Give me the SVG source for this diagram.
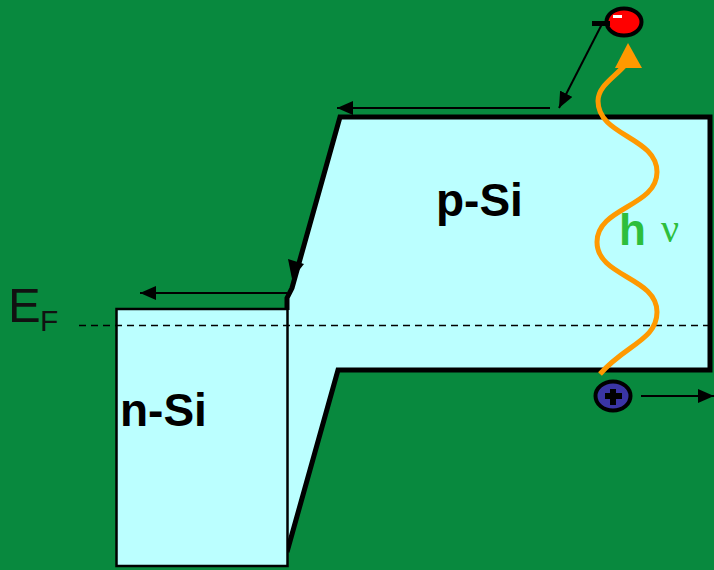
<svg xmlns="http://www.w3.org/2000/svg" width="714" height="570" viewBox="0 0 714 570">
<defs>
<marker id="ah" markerUnits="userSpaceOnUse" markerWidth="16" markerHeight="14" refX="16" refY="7" orient="auto">
<path d="M0,0 L16,7 L0,14 z" fill="#000"/>
</marker>
<style>
.lbl{font-family:"Liberation Sans",Arial,sans-serif;font-weight:bold;font-size:46px;fill:#000}
.thin{stroke:#000;stroke-width:2;fill:none}
</style>
</defs>
<rect x="0" y="0" width="714" height="570" fill="#08893E"/>
<g id="p-Si">
<path d="M287,300 L292,288 L340,117 L710,117 L710,370 L338,370 L287,552 Z" fill="#BBFFFF"/>
<path d="M287,310 L287,298 L292,288 L340,117 L710,117 L710,370 L338,370 L287,552" fill="none" stroke="#000" stroke-width="5" stroke-linejoin="miter"/>
<path d="M292,279 L304,264 L288,259 Z" fill="#000"/>
<text class="lbl" x="436" y="216">p-Si</text>
</g>
<g id="n-Si">
<rect x="116.5" y="309" width="171" height="257" fill="#BBFFFF" stroke="#000" stroke-width="2.5"/>
<text class="lbl" x="120" y="426">n-Si</text>
</g>
<g id="EF">
<line x1="79" y1="325.5" x2="712" y2="325.5" stroke="#000" stroke-width="1.5" stroke-dasharray="7 5"/>
<text x="8" y="322" font-family="Liberation Sans,Arial,sans-serif" font-size="49" fill="#111">E</text>
<text x="40" y="331" font-family="Liberation Sans,Arial,sans-serif" font-size="30" fill="#111">F</text>
</g>
<g id="connectors">
<line class="thin" x1="550" y1="108" x2="337" y2="108" marker-end="url(#ah)"/>
<line class="thin" x1="287" y1="293" x2="140" y2="293" marker-end="url(#ah)"/>
<line class="thin" x1="602" y1="24" x2="559" y2="108" marker-end="url(#ah)"/>
<line class="thin" x1="641" y1="396" x2="714" y2="396" marker-end="url(#ah)"/>
</g>
<g id="photon">
<path d="M600,374 C625,345 657,340 657,312 C657,277 597,277 597,242 C597,207 657,207 657,172 C657,137 598,136 598,101 C598,86 614,78 626,64" fill="none" stroke="#FF9900" stroke-width="5" stroke-linecap="butt"/>
<path d="M628,43 L615,68 L642,68 Z" fill="#FF9900"/>
<text x="619" y="245" font-family="Liberation Sans,Arial,sans-serif" font-weight="bold" font-size="44" fill="#2DBE3C">h</text>
<text x="661" y="242" font-family="Liberation Serif,Times New Roman,serif" font-size="40" fill="#2DBE3C">ν</text>
</g>
<g id="electron">
<ellipse cx="624" cy="22" rx="17.5" ry="13.5" fill="#FF0000" stroke="#000" stroke-width="4"/>
<rect x="613" y="15" width="9" height="3" fill="#fff"/>
<rect x="592" y="21" width="18" height="5" fill="#000"/>
</g>
<g id="hole">
<ellipse cx="613" cy="396" rx="17.5" ry="14.5" fill="#3A35A5" stroke="#000" stroke-width="4"/>
<rect x="610" y="389" width="6" height="16" fill="#000"/>
<rect x="605" y="393" width="17" height="6" fill="#000"/>
</g>
</svg>
